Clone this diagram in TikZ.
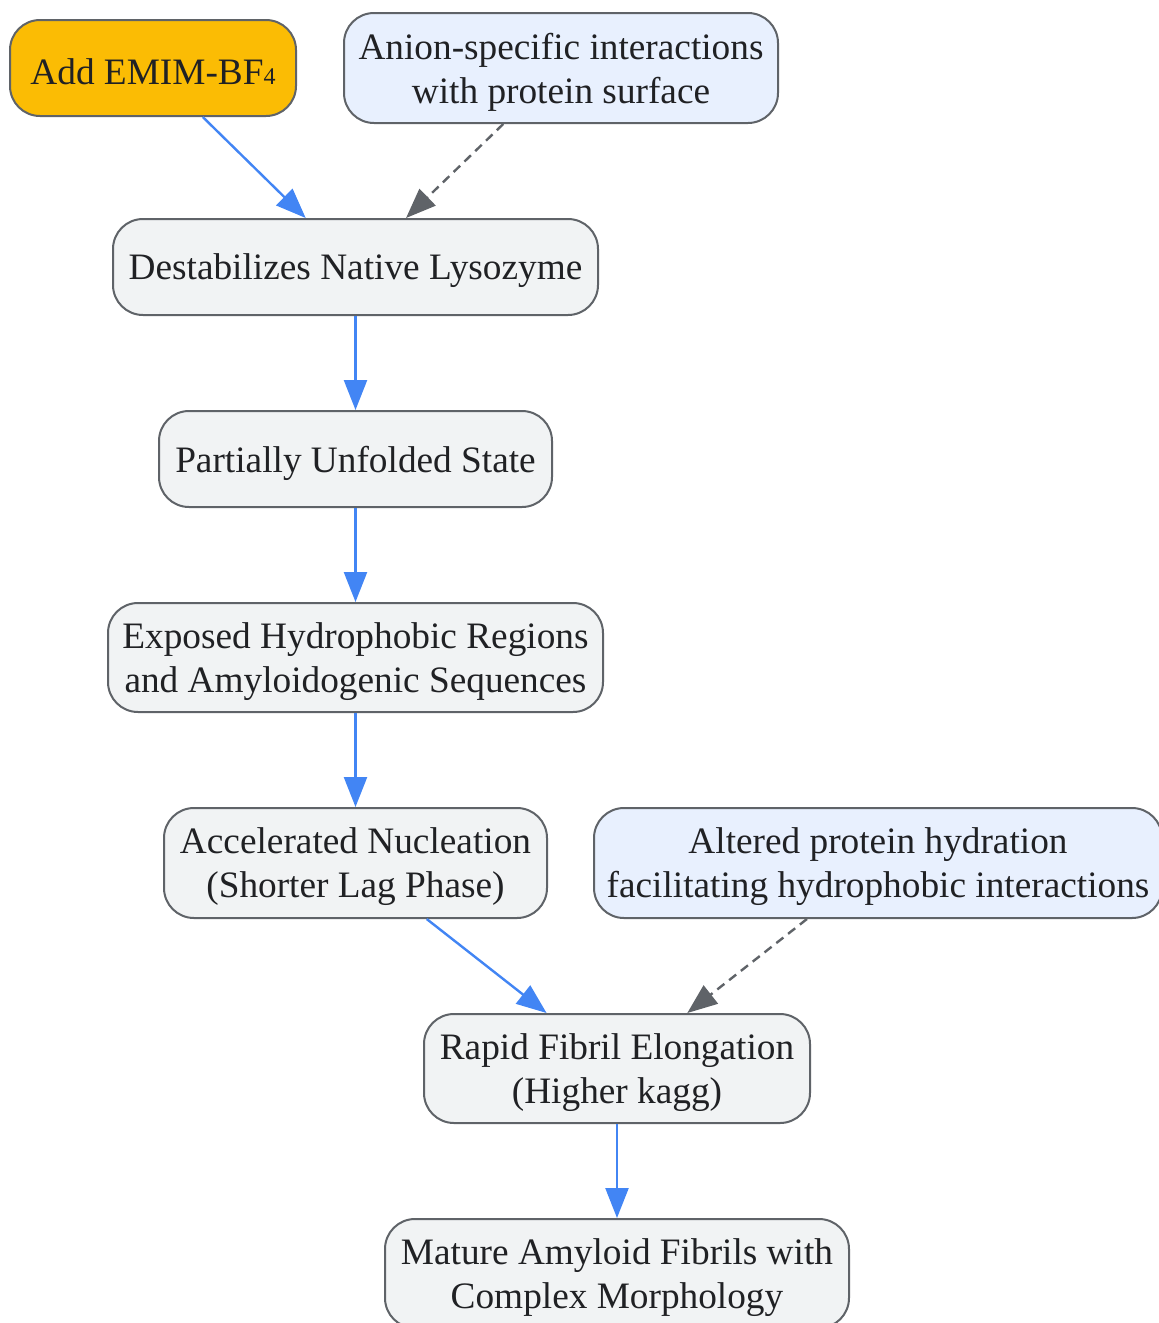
\documentclass[tikz,border=0pt]{standalone}
\usepackage{fontspec}
\setmainfont{Liberation Serif}
\usetikzlibrary{arrows.meta}
\definecolor{bordergray}{HTML}{5F6368}
\definecolor{boxgray}{HTML}{F1F3F4}
\definecolor{boxblue}{HTML}{E8F0FE}
\definecolor{boxorange}{HTML}{FBBC04}
\definecolor{arrowblue}{HTML}{4285F4}
\definecolor{textdark}{HTML}{202124}
\begin{document}
\begin{tikzpicture}[x=1pt,y=1pt,
  box/.style={draw=bordergray, line width=2pt, rounded corners=30pt, inner sep=0pt},
  boxtext/.style={align=center, inner sep=0pt, text=textdark, yshift=-4pt,
    font=\fontsize{37.3}{44}\selectfont},
  procbox/.style={box, fill=boxgray},
  notebox/.style={box, fill=boxblue},
  startbox/.style={box, fill=boxorange},
  flow/.style={draw=arrowblue, line width=2.4pt, -{Triangle[length=30pt,width=23pt]}},
  influence/.style={draw=bordergray, line width=2.4pt, dash pattern=on 9pt off 6pt, -{Triangle[length=30pt,width=23pt]}}
]
\useasboundingbox (0,0) rectangle (1159,-1323);
\node[startbox, minimum width=286pt, minimum height=96pt,
  label={[boxtext]center:Add EMIM-BF{\fontsize{24}{24}\selectfont 4}}] (add) at (153,-68) {};
\node[notebox, minimum width=434pt, minimum height=110pt,
  label={[boxtext]center:Anion-specific interactions\\with protein surface}] (anion) at (561,-68) {};
\node[procbox, minimum width=485pt, minimum height=96pt,
  label={[boxtext]center:Destabilizes Native Lysozyme}] (destab) at (355.5,-267) {};
\node[procbox, minimum width=393pt, minimum height=96pt,
  label={[boxtext]center:Partially Unfolded State}] (partial) at (355.5,-459) {};
\node[procbox, minimum width=495pt, minimum height=109pt,
  label={[boxtext]center:Exposed Hydrophobic Regions\\and Amyloidogenic Sequences}] (exposed) at (355.5,-657.5) {};
\node[procbox, minimum width=383pt, minimum height=110pt,
  label={[boxtext]center:Accelerated Nucleation\\(Shorter Lag Phase)}] (accel) at (355.5,-863) {};
\node[notebox, minimum width=568pt, minimum height=110pt,
  label={[boxtext]center:Altered protein hydration\\facilitating hydrophobic interactions}] (altered) at (878,-863) {};
\node[procbox, minimum width=386pt, minimum height=109pt,
  label={[boxtext]center:Rapid Fibril Elongation\\(Higher kagg)}] (rapid) at (617,-1068.5) {};
\node[procbox, minimum width=464pt, minimum height=109pt,
  label={[boxtext]center:Mature Amyloid Fibrils with\\Complex Morphology}] (mature) at (617,-1273.5) {};

\draw[flow] (add) -- (destab);
\draw[influence] (anion) -- (destab);
\draw[flow] (destab) -- (partial);
\draw[flow] (partial) -- (exposed);
\draw[flow] (exposed) -- (accel);
\draw[flow] (accel) -- (rapid);
\draw[influence] (altered) -- (rapid);
\draw[flow] (rapid) -- (mature);
\end{tikzpicture}
\end{document}
